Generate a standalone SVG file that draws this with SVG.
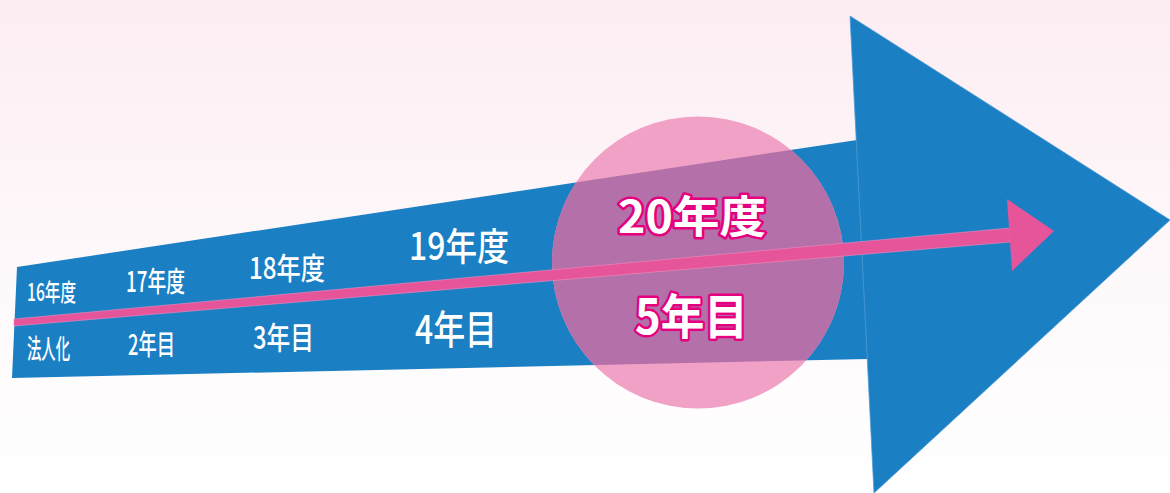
<svg xmlns="http://www.w3.org/2000/svg" width="1170" height="493" viewBox="0 0 1170 493">
<defs>
<linearGradient id="bg" x1="0" y1="0" x2="0" y2="1">
<stop offset="0" stop-color="#fcedf3"/>
<stop offset="0.55" stop-color="#fef9fb"/>
<stop offset="1" stop-color="#ffffff"/>
</linearGradient>
<clipPath id="circClip"><circle cx="698" cy="262.5" r="146"/></clipPath>
<style>
.blue{fill:#1b7fc4}
.lbl{fill:#ffffff;font-family:"Noto Sans CJK JP","Noto Sans",sans-serif;font-weight:500}
.big{fill:#ffffff;stroke:#e4007f;stroke-width:5;stroke-linejoin:round;paint-order:stroke;font-family:"Noto Sans CJK JP","Noto Sans",sans-serif;font-weight:700}
</style>
</defs>
<rect width="1170" height="493" fill="url(#bg)"/>
<g id="shaft">
<polygon class="blue" points="17,267 857,140 868,359 12,378"/>
</g>
<g id="circle">
<circle cx="698" cy="262.5" r="146" fill="#f0a1c5"/>
<polygon points="17,267 857,140 868,359 12,378" fill="#b470a9" clip-path="url(#circClip)"/>
</g>
<g id="arrowhead">
<polygon class="blue" points="850,16 1170,220 874,493" stroke="#4f9ad3" stroke-width="0.8"/>
</g>
<g id="connectors">
<polygon points="14,319 1010,228 1010,242 14,326" fill="#e6549a" stroke="#f08fbd" stroke-width="0.6"/>
<polygon points="1007,199 1054,231 1012,271" fill="#e6549a"/>
</g>
<g id="years">
<text class="lbl" x="27" y="301" font-size="24" textLength="49" lengthAdjust="spacingAndGlyphs">16年度</text>
<text class="lbl" x="126" y="292" font-size="28" textLength="59" lengthAdjust="spacingAndGlyphs">17年度</text>
<text class="lbl" x="249" y="279" font-size="30" textLength="76" lengthAdjust="spacingAndGlyphs">18年度</text>
<text class="lbl" x="409" y="260" font-size="38" textLength="100" lengthAdjust="spacingAndGlyphs">19年度</text>
</g>
<g id="terms">
<text class="lbl" x="27" y="359" font-size="27" textLength="43" lengthAdjust="spacingAndGlyphs">法人化</text>
<text class="lbl" x="128" y="355" font-size="28" textLength="47" lengthAdjust="spacingAndGlyphs">2年目</text>
<text class="lbl" x="253" y="349" font-size="31" textLength="61" lengthAdjust="spacingAndGlyphs">3年目</text>
<text class="lbl" x="415" y="344" font-size="40" textLength="82" lengthAdjust="spacingAndGlyphs">4年目</text>
</g>
<g id="highlight">
<text class="big" x="618" y="233" font-size="44" textLength="148" lengthAdjust="spacingAndGlyphs">20年度</text>
<text class="big" x="635" y="334" font-size="48" textLength="113" lengthAdjust="spacingAndGlyphs">5年目</text>
</g>
</svg>
